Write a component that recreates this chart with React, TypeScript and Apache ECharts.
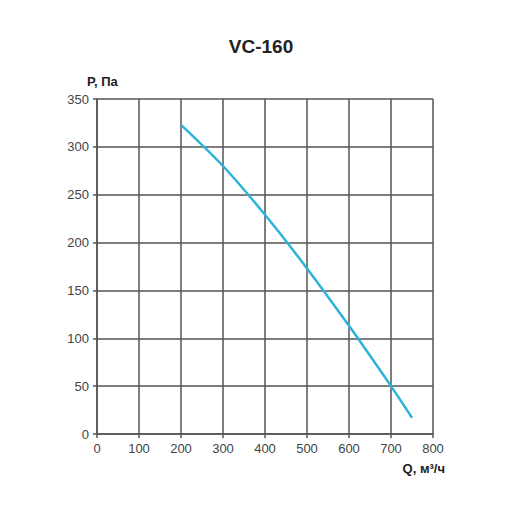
import React, { useEffect, useRef } from "react";
import * as echarts from "echarts";

const titleText = "VC-160";
const xName = "Q, м³/ч";
const yName = "P, Па";
const flowValues = [200, 300, 400, 500, 600, 700, 750];
const pressureValues = [323, 280, 229, 173, 113, 50, 17];

export default function App() {
  const ref = useRef<HTMLDivElement>(null);
  useEffect(() => {
    if (!ref.current) return;
    const chart = echarts.init(ref.current, null, { renderer: "svg" });
    const font = "'Liberation Sans', Arial, sans-serif";
    const axisLineStyle = { color: "#555", width: 1.5 };
    chart.setOption({
      animation: false,
      backgroundColor: "#fff",
      textStyle: { fontFamily: font },
      title: {
        text: titleText,
        left: 256,
        top: 32,
        textAlign: "center",
        textStyle: { fontSize: 19, fontWeight: "bold", color: "#222", fontFamily: font },
      },
      grid: { left: 97, right: 87, top: 99, bottom: 86 },
      xAxis: {
        type: "value",
        min: 0,
        max: 800,
        interval: 100,
        axisLine: { show: true, lineStyle: axisLineStyle },
        axisTick: { show: true, length: 4, lineStyle: axisLineStyle },
        splitLine: { show: true, lineStyle: axisLineStyle },
        axisLabel: { color: "#444", fontSize: 13, margin: 8, fontFamily: font },
      },
      yAxis: {
        type: "value",
        min: 0,
        max: 350,
        interval: 50,
        axisLine: { show: true, lineStyle: axisLineStyle },
        axisTick: { show: true, length: 4, lineStyle: axisLineStyle },
        splitLine: { show: true, lineStyle: axisLineStyle },
        axisLabel: { color: "#444", fontSize: 13, margin: 8, fontFamily: font },
      },
      graphic: [
        {
          type: "text",
          left: 87,
          top: 75,
          style: { text: yName, fill: "#222", font: `bold 13px ${font}` },
        },
        {
          type: "text",
          right: 75,
          top: 462,
          style: { text: xName, fill: "#222", font: `bold 13px ${font}` },
        },
      ],
      series: [
        {
          type: "line",
          data: flowValues.map((q, i) => [q, pressureValues[i]]),
          smooth: 0.3,
          showSymbol: false,
          lineStyle: { color: "#2cb3d9", width: 2.5 },
        },
      ],
    });
    return () => chart.dispose();
  }, []);
  return (
    <div
      ref={ref}
      style={{ position: "fixed", left: 0, top: 0, width: 520, height: 520 }}
    />
  );
}
